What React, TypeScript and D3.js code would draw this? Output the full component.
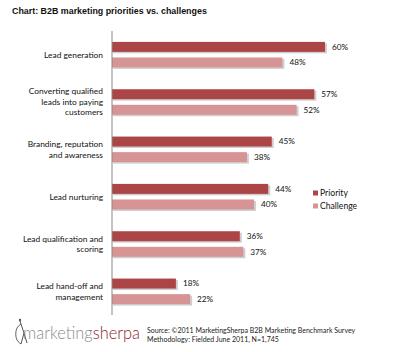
import * as d3 from 'd3'

const CATEGORIES = [
  ['Lead generation'],
  ['Converting qualified', 'leads into paying', 'customers'],
  ['Branding, reputation', 'and awareness'],
  ['Lead nurturing'],
  ['Lead qualification and', 'scoring'],
  ['Lead hand-off and', 'management'],
]
const PRIORITY = [60, 57, 45, 44, 36, 18]
const CHALLENGE = [48, 52, 38, 40, 37, 22]
const SERIES = ['Priority', 'Challenge']
const COLORS = ['#ab4546', '#d69495']
const SOURCE_LINES = [
  'Source: ©2011 MarketingSherpa B2B Marketing Benchmark Survey',
  'Methodology: Fielded June 2011, N=1,745',
]

const W = 399
const H = 352
const FONT = 'Lato, "Open Sans", sans-serif'

export default function App() {
  const x0 = 112
  const top = 31
  const bottom = 315
  const x = d3.scaleLinear().domain([0, 60]).range([x0, 325])
  const y = d3.scaleBand<number>().domain(d3.range(CATEGORIES.length)).range([top, bottom])
  const inner = d3.scaleBand<number>().domain([0, 1]).range([0, y.bandwidth()]).paddingInner(0.36).paddingOuter(0.7)
  const values = [PRIORITY, CHALLENGE]

  return (
    <div style={{ position: 'fixed', left: 0, top: 0 }}>
      <svg width={W} height={H} style={{ display: 'block', background: '#fff' }}>
        <text x={12} y={14} fontFamily='"Liberation Sans", Arial, sans-serif' fontWeight={700} fontSize={8.9} fill="#111">
          Chart: B2B marketing priorities vs. challenges
        </text>

        {CATEGORIES.map((lines, i) => {
          const cy = y(i)! + y.bandwidth() / 2
          const lh = 10.5
          return (
            <g key={i}>
              {values.map((vals, s) => {
                const by = y(i)! + inner(s)!
                const bh = inner.bandwidth()
                return (
                  <g key={s}>
                    <rect x={x0 + 1} y={by + 1.5} width={x(vals[i]) - x0 + 1} height={bh} fill="#cfcfcf" />
                    <rect x={x0} y={by} width={x(vals[i]) - x0} height={bh} fill={COLORS[s]} />
                    <text x={x(vals[i]) + 7} y={by + bh / 2} dy="0.35em" fontFamily={FONT} fontSize={8.2} fill="#111">
                      {vals[i]}%
                    </text>
                  </g>
                )
              })}
              {lines.map((ln, k) => (
                <text key={k} x={103} y={cy + (k - (lines.length - 1) / 2) * lh} dy="0.35em"
                  textAnchor="end" fontFamily={FONT} fontSize={8.4} fill="#111">
                  {ln}
                </text>
              ))}
            </g>
          )
        })}

        <line x1={x0} x2={x0} y1={top} y2={bottom} stroke="#888" strokeWidth={1} />

        {SERIES.map((name, s) => (
          <g key={name} transform={`translate(313,${193 + s * 13})`}>
            <rect x={0} y={-2.5} width={5} height={5} fill={COLORS[s]} />
            <text x={7} y={0} dy="0.35em" fontFamily={FONT} fontSize={8.6} fill="#111">{name}</text>
          </g>
        ))}

        <g>
          <path d="M21,324 A9,11 0 0 0 21,344" fill="none" stroke="#666" strokeWidth={1} />
          <path d="M20,321 L24,333 L21,344 M24,333 L27,343" fill="none" stroke="#555" strokeWidth={1} />
          <circle cx={20} cy={320} r={1.2} fill="#555" />
          <text x={23} y={339} fontFamily={FONT} fontSize={17.5} fill="#8a8a8a" fontWeight={300}
            textLength={117} lengthAdjust="spacingAndGlyphs">
            marketing<tspan fill="#8b1a2e">sherpa</tspan>
          </text>
        </g>

        {SOURCE_LINES.map((t, k) => (
          <text key={k} x={147} y={333 + k * 9} fontFamily={FONT} fontSize={7} fill="#222">{t}</text>
        ))}
      </svg>
    </div>
  )
}
